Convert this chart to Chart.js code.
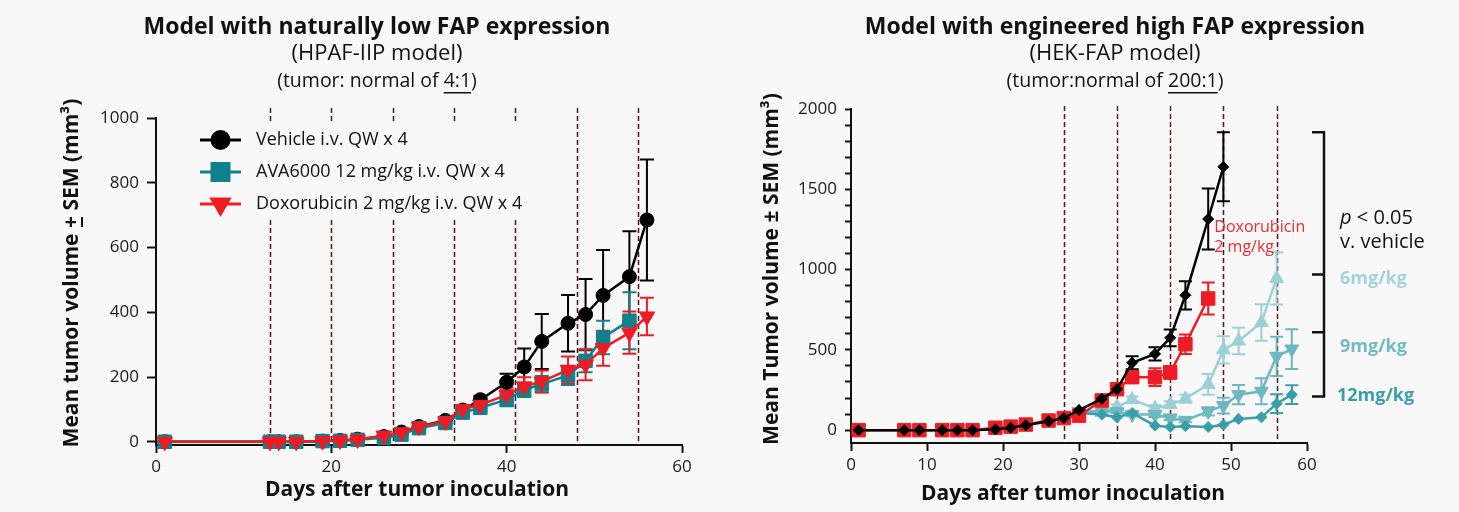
<!DOCTYPE html>
<html>
<head>
<meta charset="utf-8">
<script src="https://cdn.jsdelivr.net/npm/chart.js@4.4.0/dist/chart.umd.min.js"></script>
<style>
html, body { margin: 0; padding: 0; background: #f8f8f8; }
#wrap { position: relative; width: 1459px; height: 512px; }
canvas { position: absolute; top: 0; }
</style>
</head>
<body>
<div id="wrap">
  <canvas id="leftChart" width="730" height="512" style="left:0"></canvas>
  <canvas id="rightChart" width="729" height="512" style="left:730px"></canvas>
</div>
<script>
// ---- left panel: HPAF-IIP model ----
const leftNames = ['Vehicle i.v. QW x 4', 'AVA6000 12 mg/kg i.v. QW x 4', 'Doxorubicin 2 mg/kg i.v. QW x 4'];
const leftVehicleDays = [1, 13, 14, 16, 19, 21, 23, 26, 28, 30, 33, 35, 37, 40, 42, 44, 47, 49, 51, 54, 56];
const leftVehicle    = [0, 0, 0, 0, 2, 4, 8, 16, 30, 47, 66, 98, 130, 184, 231, 310, 366, 393, 452, 510, 685];
const leftVehicleSem = [0, 0, 0, 0, 1, 2, 3, 4, 5, 6, 8, 10, 12, 26, 57, 85, 87, 110, 140, 140, 187];
const leftAvaDays = [1, 13, 14, 16, 19, 21, 23, 26, 28, 30, 33, 35, 37, 40, 42, 44, 47, 49, 51, 54];
const leftAva     = [0, 0, 0, 0, 2, 3, 6, 12, 22, 42, 58, 90, 105, 130, 160, 178, 205, 250, 322, 374];
const leftAvaSem  = [0, 0, 0, 0, 1, 1, 2, 3, 4, 5, 7, 9, 11, 20, 22, 25, 30, 35, 52, 88];
const leftDoxoDays = [1, 13, 14, 16, 19, 21, 23, 26, 28, 30, 33, 35, 37, 40, 42, 44, 47, 49, 51, 54, 56];
const leftDoxo     = [0, 0, 0, 0, 2, 4, 7, 19, 29, 47, 63, 101, 114, 145, 171, 186, 222, 238, 289, 337, 387];
const leftDoxoSem  = [0, 0, 0, 0, 1, 1, 2, 3, 4, 5, 6, 8, 10, 22, 28, 34, 41, 48, 54, 65, 58];
const leftDosing = [13, 20, 27, 34, 41, 48, 55];
const leftXTicks = [0, 20, 40, 60];
const leftYTicks = [0, 200, 400, 600, 800, 1000];

// ---- right panel: HEK-FAP model ----
const rightNames = ['Vehicle', 'Doxorubicin 2 mg/kg', 'AVA6000 6mg/kg', 'AVA6000 9mg/kg', 'AVA6000 12mg/kg'];
const rightVehicleDays = [1, 7, 9, 12, 14, 16, 19, 21, 23, 26, 28, 30, 33, 35, 37, 40, 42, 44, 47, 49];
const rightVehicle     = [0, 0, 0, 0, 0, 0, 5, 15, 30, 55, 75, 125, 195, 255, 420, 475, 575, 840, 1315, 1640];
const rightVehicleSem  = [0, 0, 0, 0, 0, 0, 0, 0, 0, 0, 0, 0, 10, 15, 40, 42, 52, 88, 190, 215];
const rightDoxoDays = [1, 7, 9, 12, 14, 16, 19, 21, 23, 26, 28, 30, 33, 35, 37, 40, 42, 44, 47];
const rightDoxo     = [0, 0, 0, 0, 0, 0, 15, 22, 35, 60, 75, 90, 185, 255, 330, 330, 360, 535, 820];
const rightDoxoSem  = [0, 0, 0, 0, 0, 0, 3, 4, 5, 8, 10, 12, 15, 20, 35, 55, 40, 60, 100];
const right6Days = [30, 33, 35, 37, 40, 42, 44, 47, 49, 51, 54, 56];
const right6     = [115, 110, 145, 190, 135, 160, 195, 285, 500, 555, 670, 945];
const right6Sem  = [0, 10, 15, 20, 20, 20, 25, 65, 85, 83, 114, 163];
const right9Days = [30, 33, 35, 37, 40, 42, 44, 47, 49, 51, 54, 56, 58];
const right9     = [115, 120, 115, 97, 97, 76, 61, 117, 153, 221, 242, 460, 505];
const right9Sem  = [0, 8, 10, 10, 15, 12, 12, 25, 49, 60, 81, 122, 124];
const right12Days = [30, 33, 35, 37, 40, 42, 44, 47, 49, 51, 54, 56, 58];
const right12     = [107, 97, 80, 107, 28, 20, 25, 20, 34, 70, 80, 165, 221];
const right12Sem  = [0, 0, 0, 0, 0, 0, 0, 0, 0, 0, 0, 58, 58];
const rightDosing = [28, 35, 42, 49, 56];
const rightXTicks = [0, 10, 20, 30, 40, 50, 60];
const rightYLabels = [0, 500, 1000, 1500, 2000];
const rightYTicks = [];
for (let v = 0; v <= 2000; v += 100) rightYTicks.push(v);

const FONT = "'Open Sans', 'Noto Sans', sans-serif";
const pts = (days, vals) => days.map((d, i) => ({ x: d, y: vals[i] }));

// dashed dosing lines + error bars behind the markers, text on top
const decor = {
  id: 'decor',
  beforeDatasetsDraw(chart, args, o) {
    const { ctx, chartArea: ca, scales: { x, y } } = chart;
    ctx.save();
    ctx.strokeStyle = '#4a1515';
    ctx.lineWidth = 1.5;
    ctx.setLineDash([5, 3]);
    o.dosing.forEach(d => {
      const px = Math.round(x.getPixelForValue(d)) + 0.5;
      ctx.beginPath();
      ctx.moveTo(px, ca.top - o.dashExtra);
      ctx.lineTo(px, ca.bottom);
      ctx.stroke();
    });
    ctx.setLineDash([]);
    chart.data.datasets.forEach(ds => {
      ctx.strokeStyle = ds.borderColor;
      ctx.lineWidth = o.errWidth;
      ds.data.forEach((p, i) => {
        const s = ds.sem[i];
        if (!s) return;
        const px = x.getPixelForValue(p.x);
        const t = y.getPixelForValue(p.y + s), b = y.getPixelForValue(p.y - s);
        ctx.beginPath();
        ctx.moveTo(px, t); ctx.lineTo(px, b);
        ctx.moveTo(px - o.cap, t); ctx.lineTo(px + o.cap, t);
        ctx.moveTo(px - o.cap, b); ctx.lineTo(px + o.cap, b);
        ctx.stroke();
      });
    });
    ctx.restore();
  },
  afterDraw(chart, args, o) {
    const { ctx } = chart;
    ctx.save();
    ctx.fillStyle = '#111';
    ctx.textAlign = 'center';
    ctx.textBaseline = 'middle';
    // title block
    o.titles.forEach(t => {
      ctx.font = t.font;
      ctx.fillText(t.text, o.titleX, t.y);
      if (t.under) {
        const w = ctx.measureText(t.text).width;
        const a = ctx.measureText(t.text.slice(0, t.text.indexOf(t.under))).width;
        const u = ctx.measureText(t.under).width;
        const x0 = o.titleX - w / 2 + a;
        ctx.fillRect(x0, t.y + 11, u, 1.5);
      }
    });
    // x axis title
    ctx.font = 'bold 21px ' + FONT;
    ctx.fillText(o.xTitle, o.xTitleX, o.xTitleY);
    // y axis title, optional underline under one glyph
    ctx.translate(o.yTitleX, o.yTitleY);
    ctx.rotate(-Math.PI / 2);
    ctx.font = 'bold 21px ' + FONT;
    ctx.fillText(o.yTitle, 0, 0);
    if (o.yUnder) {
      const w = ctx.measureText(o.yTitle).width;
      const a = ctx.measureText(o.yTitle.slice(0, o.yTitle.indexOf(o.yUnder))).width;
      const u = ctx.measureText(o.yUnder).width;
      ctx.fillRect(-w / 2 + a + 1, 9, u - 2, 2);
    }
    ctx.restore();
  }
};

// in-plot legend for the left panel, each row on its own background strip
const boxLegend = {
  id: 'boxLegend',
  afterDraw(chart, args, o) {
    if (!o.show) return;
    const { ctx } = chart;
    ctx.save();
    ctx.font = '18px ' + FONT;
    ctx.textBaseline = 'middle';
    const dsets = chart.data.datasets;
    const widths = dsets.map(d => ctx.measureText(d.label).width);
    dsets.forEach((ds, i) => {
      const yy = o.y + i * o.row;
      const w = Math.max(...widths.slice(i));
      ctx.fillStyle = '#f8f8f8';
      ctx.fillRect(o.x - 4, yy - o.row / 2, o.textX - o.x + w + 8, o.row);
      ctx.strokeStyle = ds.borderColor;
      ctx.lineWidth = 3;
      ctx.beginPath();
      ctx.moveTo(o.x, yy); ctx.lineTo(o.x + o.lineLen, yy);
      ctx.stroke();
      ctx.fillStyle = ds.borderColor;
      Chart.helpers.drawPoint(ctx, {
        pointStyle: ds.pointStyle, rotation: ds.pointRotation || 0,
        radius: o.markR[i], borderWidth: 1
      }, o.x + o.lineLen / 2, yy);
      ctx.fillStyle = '#111';
      ctx.fillText(ds.label, o.textX, yy);
    });
    ctx.restore();
  }
};

// bracket + labels at the right side of the right panel
const sideNotes = {
  id: 'sideNotes',
  afterDraw(chart, args, o) {
    if (!o.show) return;
    const { ctx, scales: { x, y } } = chart;
    ctx.save();
    const bx = x.getPixelForValue(60) + 17;
    ctx.strokeStyle = '#111';
    ctx.lineWidth = 2.5;
    const lv = o.levels.map(v => y.getPixelForValue(v));
    ctx.beginPath();
    ctx.moveTo(bx, lv[0]); ctx.lineTo(bx, lv[lv.length - 1]);
    lv.forEach(py => { ctx.moveTo(bx - 12, py); ctx.lineTo(bx + 1.2, py); });
    ctx.stroke();
    ctx.textBaseline = 'middle';
    ctx.textAlign = 'left';
    const tx = bx + 16;
    ctx.fillStyle = '#111';
    ctx.font = 'italic 20px ' + FONT;
    ctx.fillText('p', tx, y.getPixelForValue(1322));
    const pw = ctx.measureText('p ').width;
    ctx.font = '20px ' + FONT;
    ctx.fillText('< 0.05', tx + pw, y.getPixelForValue(1322));
    ctx.fillText('v. vehicle', tx, y.getPixelForValue(1172));
    ctx.font = 'bold 18px ' + FONT;
    o.doseLabels.forEach(d => {
      ctx.fillStyle = d.color;
      ctx.fillText(d.text, tx + d.dx, y.getPixelForValue(d.v));
    });
    ctx.fillStyle = '#ee2a33';
    ctx.font = '16px ' + FONT;
    ctx.fillText('Doxorubicin', x.getPixelForValue(47.8), y.getPixelForValue(1262));
    ctx.fillText('2 mg/kg', x.getPixelForValue(47.8), y.getPixelForValue(1136));
    ctx.restore();
  }
};

function axisCfg(min, max, tickList, labelList, fixed, isX, tickLen) {
  return {
    type: 'linear', min: min, max: max,
    afterBuildTicks: s => { s.ticks = tickList.map(v => ({ value: v })); },
    afterFit: s => { if (isX) s.height = fixed; else s.width = fixed; },
    ticks: {
      autoSkip: false, maxRotation: 0, padding: isX ? 4 : 8,
      color: '#1a1a1a', font: { family: FONT, size: 17 },
      callback: v => labelList.includes(v) ? String(v) : ''
    },
    grid: { drawOnChartArea: false, drawTicks: true, tickLength: tickLen, tickWidth: 2, tickColor: '#111' },
    border: { display: true, color: '#111', width: 2 }
  };
}

function series(label, days, vals, sem, color, style, r, rot, order, lw) {
  return {
    label: label, data: pts(days, vals), sem: sem,
    borderColor: color, backgroundColor: color,
    pointBackgroundColor: color, pointBorderColor: color,
    pointStyle: style, pointRadius: r, pointRotation: rot, pointBorderWidth: 1,
    borderWidth: lw, tension: 0, order: order, clip: false
  };
}

const black = '#000000', teal = '#0f808c', red = '#ed1c24';
const c6 = '#9dd0d6', c9 = '#6db7c0', c12 = '#389ea8';

new Chart(document.getElementById('leftChart'), {
  type: 'line',
  data: {
    datasets: [
      series(leftNames[0], leftVehicleDays, leftVehicle, leftVehicleSem, black, 'circle', 7, 0, 3, 2.5),
      series(leftNames[1], leftAvaDays, leftAva, leftAvaSem, teal, 'rect', 9.5, 0, 2, 2.5),
      series(leftNames[2], leftDoxoDays, leftDoxo, leftDoxoSem, red, 'triangle', 9, 180, 1, 2.5)
    ]
  },
  options: {
    responsive: false, animation: false,
    layout: { autoPadding: false, padding: { left: 40, top: 118, right: 48, bottom: 0 } },
    scales: {
      x: axisCfg(0, 60, leftXTicks, leftXTicks, 67, true, 8),
      y: axisCfg(-10, 1000, leftYTicks, leftYTicks, 116, false, 9)
    },
    plugins: {
      legend: { display: false }, tooltip: { enabled: false },
      decor: {
        dosing: leftDosing, dashExtra: 10, errWidth: 2, cap: 7,
        titleX: 377,
        titles: [
          { text: 'Model with naturally low FAP expression', y: 27, font: 'bold 23px ' + FONT },
          { text: '(HPAF-IIP model)', y: 54, font: '22px ' + FONT },
          { text: '(tumor: normal of 4:1)', y: 81, font: '19.5px ' + FONT, under: '4:1' }
        ],
        xTitle: 'Days after tumor inoculation', xTitleX: 417, xTitleY: 490,
        yTitle: 'Mean tumor volume + SEM (mm³)', yUnder: '+', yTitleX: 72, yTitleY: 273
      },
      boxLegend: { show: true, x: 200, y: 140, row: 32, lineLen: 41, textX: 256, markR: [8.5, 12, 10] },
      sideNotes: { show: false }
    }
  },
  plugins: [decor, boxLegend, sideNotes]
});

new Chart(document.getElementById('rightChart'), {
  type: 'line',
  data: {
    datasets: [
      series(rightNames[0], rightVehicleDays, rightVehicle, rightVehicleSem, black, 'rectRot', 5.5, 0, 0, 2.5),
      series(rightNames[1], rightDoxoDays, rightDoxo, rightDoxoSem, red, 'rect', 9.5, 0, 1, 2.5),
      series(rightNames[2], right6Days, right6, right6Sem, c6, 'triangle', 8, 0, 4, 2.5),
      series(rightNames[3], right9Days, right9, right9Sem, c9, 'triangle', 8, 180, 3, 2.5),
      series(rightNames[4], right12Days, right12, right12Sem, c12, 'rectRot', 5.5, 0, 2, 2.5)
    ]
  },
  options: {
    responsive: false, animation: false,
    layout: { autoPadding: false, padding: { left: 5, top: 109, right: 152, bottom: 0 } },
    scales: {
      x: axisCfg(0, 60, rightXTicks, rightXTicks, 69, true, 8),
      y: axisCfg(-80, 2000, rightYTicks, rightYLabels, 116, false, 6)
    },
    plugins: {
      legend: { display: false }, tooltip: { enabled: false },
      decor: {
        dosing: rightDosing, dashExtra: 3, errWidth: 2, cap: 6.5,
        titleX: 385,
        titles: [
          { text: 'Model with engineered high FAP expression', y: 27, font: 'bold 23px ' + FONT },
          { text: '(HEK-FAP model)', y: 54, font: '22px ' + FONT },
          { text: '(tumor:normal of 200:1)', y: 81, font: '19.5px ' + FONT, under: '200:1' }
        ],
        xTitle: 'Days after tumor inoculation', xTitleX: 343, xTitleY: 494,
        yTitle: 'Mean Tumor volume ± SEM (mm³)', yTitleX: 42, yTitleY: 269
      },
      boxLegend: { show: false },
      sideNotes: {
        show: true, levels: [1855, 970, 610, 210],
        doseLabels: [
          { text: '6mg/kg', v: 942, dx: 0, color: '#a3d3d8' },
          { text: '9mg/kg', v: 520, dx: 0, color: '#72b9c2' },
          { text: '12mg/kg', v: 215, dx: -3, color: '#3d9ea9' }
        ]
      }
    }
  },
  plugins: [decor, boxLegend, sideNotes]
});
</script>
</body>
</html>
